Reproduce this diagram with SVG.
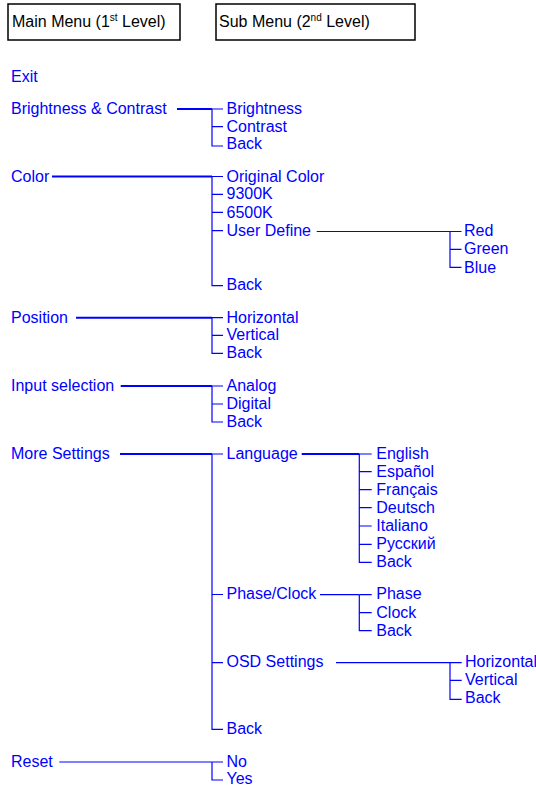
<svg xmlns="http://www.w3.org/2000/svg" width="536" height="787" viewBox="0 0 536 787">
<style>
text{font-family:"Liberation Sans",Arial,sans-serif;font-size:16px;fill:#0000ff}
.hdr{fill:#000}
.box{fill:#fff;stroke:#000;stroke-width:1.5}
.thick{fill:none;stroke:#0000ff;stroke-width:2}
.thin{fill:none;stroke:#0000ff;stroke-width:1.2}
.tick{fill:none;stroke:#0000ff;stroke-width:1}
</style>
<rect width="536" height="787" fill="#fff"/>
<g id="legend-main"><rect class="box" x="8" y="4" width="172" height="36"/><text class="hdr" x="12" y="27">Main Menu (1<tspan font-size="10" dy="-6">st</tspan><tspan dy="6"> Level)</tspan></text></g>
<g id="legend-sub"><rect class="box" x="216" y="4" width="199" height="36"/><text class="hdr" x="219" y="27">Sub Menu (2<tspan font-size="10" dy="-6">nd</tspan><tspan dy="6"> Level)</tspan></text></g>

<g id="connectors">
<path class="thick" d="M177 109H212"/>
<path class="thin" d="M212 109V146H223M212 109H223M212 126.7H223"/>
<path class="thick" d="M52 176.5H212"/>
<path class="thin" d="M212 176.5V285.7H223M212 176.5H223M212 194.3H223M212 212.3H223M212 230.7H223"/>
<path class="thin" d="M316.7 231.5H450"/>
<path class="thin" d="M450 231.5V267.3H461.5M450 231.5H461.5M450 249.3H461.5"/>
<path class="thick" d="M76 317.7H212"/>
<path class="thin" d="M212 317.7V353.3H223M212 317.7H223M212 335.3H223"/>
<path class="thick" d="M120.7 386H212"/>
<path class="thin" d="M212 386V422H223M212 386H223M212 404H223"/>
<path class="thick" d="M120 454H212"/>
<path class="thin" d="M212 454V729.3H223M212 454H223M212 594.5H223M212 662.7H223"/>
<path class="thick" d="M301.7 454H359.3"/>
<path class="thin" d="M359.3 454V562.3H371.7M359.3 454H371.7M359.3 471.7H371.7M359.3 489.7H371.7M359.3 507.7H371.7M359.3 526H371.7M359.3 544.3H371.7"/>
<path class="thin" d="M320 594.7H359.3"/>
<path class="thin" d="M359.3 594.7V630.7H371.7M359.3 594.7H371.7M359.3 612.7H371.7"/>
<path class="thin" d="M336 662.7H450"/>
<path class="thin" d="M450 662.7V699.3H461.7M450 662.7H461.7M450 680.3H461.7"/>
<path class="thin" d="M59.3 762H212"/>
<path class="thin" d="M212 762V780H223M212 762H223"/>
</g>

<g id="exit"><text x="11" y="82">Exit</text></g>
<g id="brightness-contrast"><text x="11" y="114">Brightness &amp; Contrast</text></g>
<g id="bc-brightness"><text x="226.5" y="114">Brightness</text></g>
<g id="bc-contrast"><text x="226.5" y="131.7">Contrast</text></g>
<g id="bc-back"><text x="226.5" y="149.3">Back</text></g>

<g id="color"><text x="11" y="181.7">Color</text></g>
<g id="color-original"><text x="226.5" y="181.7">Original Color</text></g>
<g id="color-9300"><text x="226.5" y="199.3">9300K</text></g>
<g id="color-6500"><text x="226.5" y="217.7">6500K</text></g>
<g id="color-user"><text x="226.5" y="236">User Define</text></g>
<g id="user-red"><text x="464" y="236">Red</text></g>
<g id="user-green"><text x="464" y="254">Green</text></g>
<g id="user-blue"><text x="464" y="272.7">Blue</text></g>
<g id="color-back"><text x="226.5" y="290">Back</text></g>

<g id="position"><text x="11" y="322.7">Position</text></g>
<g id="pos-h"><text x="226.5" y="322.7">Horizontal</text></g>
<g id="pos-v"><text x="226.5" y="340.3">Vertical</text></g>
<g id="pos-back"><text x="226.5" y="358.3">Back</text></g>

<g id="input"><text x="11" y="391">Input selection</text></g>
<g id="in-analog"><text x="226.5" y="391">Analog</text></g>
<g id="in-digital"><text x="226.5" y="408.7">Digital</text></g>
<g id="in-back"><text x="226.5" y="426.7">Back</text></g>

<g id="more"><text x="11" y="459">More Settings</text></g>
<g id="more-language"><text x="226.5" y="459">Language</text></g>
<g id="lang-en"><text x="376.3" y="459">English</text></g>
<g id="lang-es"><text x="376.3" y="476.7">Español</text></g>
<g id="lang-fr"><text x="376.3" y="495">Français</text></g>
<g id="lang-de"><text x="376.3" y="512.7">Deutsch</text></g>
<g id="lang-it"><text x="376.3" y="530.7">Italiano</text></g>
<g id="lang-ru"><text x="376.3" y="549">Русский</text></g>
<g id="lang-back"><text x="376.3" y="567.3">Back</text></g>
<g id="more-phase"><text x="226.5" y="599">Phase/Clock</text></g>
<g id="pc-phase"><text x="376.3" y="599">Phase</text></g>
<g id="pc-clock"><text x="376.3" y="617.7">Clock</text></g>
<g id="pc-back"><text x="376.3" y="635.7">Back</text></g>
<g id="more-osd"><text x="226.5" y="666.7">OSD Settings</text></g>
<g id="osd-h"><text x="465" y="667">Horizontal</text></g>
<g id="osd-v"><text x="465" y="685.3">Vertical</text></g>
<g id="osd-back"><text x="465" y="703.3">Back</text></g>
<g id="more-back"><text x="226.5" y="734.3">Back</text></g>

<g id="reset"><text x="11" y="766.7">Reset</text></g>
<g id="reset-no"><text x="226.5" y="766.7">No</text></g>
<g id="reset-yes"><text x="226.5" y="784.3">Yes</text></g>
</svg>
